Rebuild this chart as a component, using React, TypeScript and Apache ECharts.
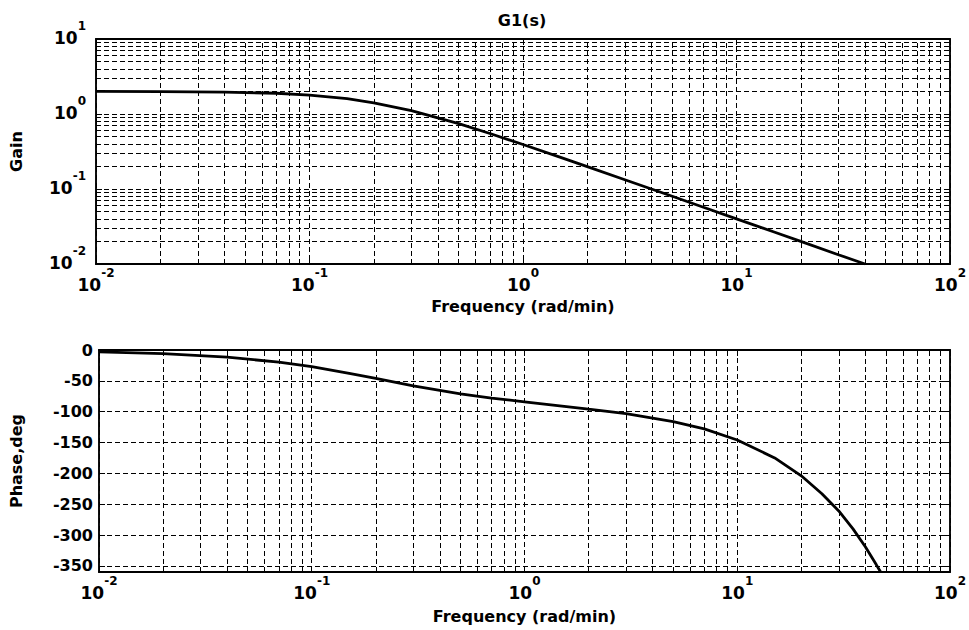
import React, { useEffect, useRef } from 'react';
import * as echarts from 'echarts';

// Gain curve (log-log)
const FREQ_GAIN = [0.01, 0.02, 0.04, 0.07, 0.1, 0.15, 0.2, 0.3, 0.5, 0.7, 1, 1.5, 2, 3, 5, 7, 10, 15, 20, 30, 40];
const GAIN = [2.0, 1.99, 1.96, 1.89, 1.79, 1.6, 1.41, 1.11, 0.743, 0.549, 0.392, 0.264, 0.199, 0.133, 0.08, 0.0571, 0.04, 0.0267, 0.02, 0.0133, 0.01];

// Phase curve (semilog x)
const FREQ_PHASE = [0.01, 0.02, 0.04, 0.07, 0.1, 0.15, 0.2, 0.3, 0.5, 0.7, 1, 1.5, 2, 3, 5, 7, 10, 15, 20, 25, 30, 35, 40, 45, 47.2];
const PHASE = [-3, -6, -11.5, -19.7, -27, -38, -46, -58, -71, -78, -84, -91, -96, -103, -116, -128, -146, -175, -204, -233, -261, -290, -319, -348, -360];

// Grid positions (minor decade lines)
const MINOR_X = [
  0.02, 0.03, 0.04, 0.05, 0.06, 0.07, 0.08, 0.09,
  0.2, 0.3, 0.4, 0.5, 0.6, 0.7, 0.8, 0.9,
  2, 3, 4, 5, 6, 7, 8, 9,
  20, 30, 40, 50, 60, 70, 80, 90,
];
const MINOR_Y = [
  0.02, 0.03, 0.04, 0.05, 0.06, 0.07, 0.08, 0.09,
  0.2, 0.3, 0.4, 0.5, 0.6, 0.7, 0.8, 0.9,
  2, 3, 4, 5, 6, 7, 8, 9,
];

const FONT = '"DejaVu Sans", Arial, sans-serif';
const DASH = [5, 3];

const powLabel = (v: number) => `{b|10}{s|${Math.round(Math.log10(v))}}`;
const rich = {
  b: { fontSize: 17, fontWeight: 'bold', fontFamily: FONT, color: '#000', lineHeight: 26, verticalAlign: 'bottom' },
  s: { fontSize: 12, fontWeight: 'bold', fontFamily: FONT, color: '#000', lineHeight: 13, verticalAlign: 'top' },
};

export default function App() {
  const ref = useRef<HTMLDivElement>(null);
  useEffect(() => {
    if (!ref.current) return;
    const chart = echarts.init(ref.current, undefined, { renderer: 'svg' });
    const gridLine = { color: '#000', width: 1, type: DASH };
    const nameStyle = { fontSize: 16, fontWeight: 'bold', fontFamily: FONT, color: '#000' };
    const tick = { show: true, inside: true, length: 6, lineStyle: { color: '#000', width: 1 } };
    const logX = (gridIndex: number, extra: any) => ({
      type: 'log', logBase: 10, min: 0.01, max: 100, gridIndex,
      axisLine: { show: true, onZero: false, lineStyle: { color: '#000', width: 2 } },
      axisTick: tick,
      splitLine: { show: false },
      ...extra,
    });
    const option: any = {
      animation: false,
      backgroundColor: '#fff',
      graphic: [
        {
          type: 'text', x: 522, y: 20,
          style: { text: 'G1(s)', font: `bold 16px ${FONT}`, fill: '#000', textAlign: 'center', textVerticalAlign: 'middle' },
        },
      ],
      grid: [
        { left: 93, right: 17, top: 39, height: 225, show: true, borderColor: '#000', borderWidth: 1.5, backgroundColor: '#fff' },
        { left: 93, right: 17, top: 350, height: 222, show: true, borderColor: '#000', borderWidth: 1.5, backgroundColor: '#fff' },
      ],
      xAxis: [
        logX(0, {
          position: 'bottom',
          name: 'Frequency (rad/min)', nameLocation: 'middle', nameGap: 34, nameTextStyle: nameStyle,
          axisLabel: { formatter: powLabel, rich, margin: 3 },
          splitLine: { show: true, lineStyle: gridLine },
        }),
        logX(0, { position: 'top', axisLabel: { show: false } }),
        logX(1, {
          position: 'bottom',
          name: 'Frequency (rad/min)', nameLocation: 'middle', nameGap: 36, nameTextStyle: nameStyle,
          axisLabel: { formatter: powLabel, rich, margin: 3 },
          splitLine: { show: true, lineStyle: gridLine },
        }),
        logX(1, { position: 'top', axisLabel: { show: false } }),
      ],
      yAxis: [
        {
          type: 'log', logBase: 10, min: 0.01, max: 10, gridIndex: 0, position: 'left',
          name: 'Gain', nameLocation: 'middle', nameGap: 72, nameTextStyle: nameStyle,
          axisLine: { show: true, lineStyle: { color: '#000', width: 1.5 } },
          axisTick: tick,
          axisLabel: { formatter: powLabel, rich, margin: 10, padding: [0, 0, 12, 0] },
          splitLine: { show: true, lineStyle: gridLine },
        },
        {
          type: 'log', logBase: 10, min: 0.01, max: 10, gridIndex: 0, position: 'right',
          axisLine: { show: true, lineStyle: { color: '#000', width: 1.5 } },
          axisTick: tick, axisLabel: { show: false }, splitLine: { show: false },
        },
        {
          type: 'value', min: -360, max: 0, splitNumber: 7, gridIndex: 1, position: 'left',
          name: 'Phase,deg', nameLocation: 'middle', nameGap: 75, nameTextStyle: nameStyle,
          axisLine: { show: true, onZero: false, lineStyle: { color: '#000', width: 1.5 } },
          axisTick: tick,
          axisLabel: { showMinLabel: false, margin: 6, fontSize: 16, fontWeight: 'bold', fontFamily: FONT, color: '#000' },
          splitLine: { show: true, lineStyle: gridLine },
        },
        {
          type: 'value', min: -360, max: 0, splitNumber: 7, gridIndex: 1, position: 'right',
          axisLine: { show: true, onZero: false, lineStyle: { color: '#000', width: 1.5 } },
          axisTick: tick, axisLabel: { show: false }, splitLine: { show: false },
        },
      ],
      series: [
        {
          type: 'line', xAxisIndex: 0, yAxisIndex: 0, data: [], silent: true,
          markLine: {
            z: 1, silent: true, symbol: ['none', 'none'], label: { show: false },
            lineStyle: gridLine,
            data: [...MINOR_X.map((v) => ({ xAxis: v })), ...MINOR_Y.map((v) => ({ yAxis: v }))],
          },
        },
        {
          type: 'line', xAxisIndex: 2, yAxisIndex: 2, data: [], silent: true,
          markLine: {
            z: 1, silent: true, symbol: ['none', 'none'], label: { show: false },
            lineStyle: gridLine,
            data: MINOR_X.map((v) => ({ xAxis: v })),
          },
        },
        {
          type: 'line', xAxisIndex: 0, yAxisIndex: 0, z: 5,
          data: FREQ_GAIN.map((f, i) => [f, GAIN[i]]),
          showSymbol: false, symbol: 'none',
          lineStyle: { color: '#000', width: 2.8 },
        },
        {
          type: 'line', xAxisIndex: 2, yAxisIndex: 2, z: 5,
          data: FREQ_PHASE.map((f, i) => [f, PHASE[i]]),
          showSymbol: false, symbol: 'none',
          lineStyle: { color: '#000', width: 2.8 },
        },
      ],
    };
    chart.setOption(option);
    return () => chart.dispose();
  }, []);
  return <div ref={ref} style={{ position: 'absolute', left: 0, top: 0, width: 969, height: 630 }} />;
}
